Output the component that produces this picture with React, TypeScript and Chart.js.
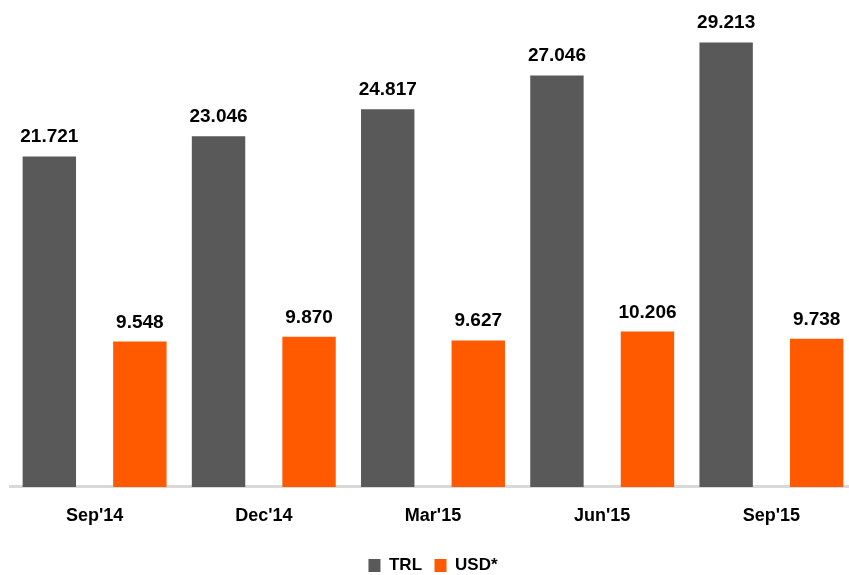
import React, { useEffect, useRef } from "react";
import { Chart, registerables } from "chart.js";

Chart.register(...registerables);

const categories = ["Sep'14", "Dec'14", "Mar'15", "Jun'15", "Sep'15"];
const trlValues = [21.721, 23.046, 24.817, 27.046, 29.213];
const usdValues = [9.548, 9.87, 9.627, 10.206, 9.738];
const seriesNames = ["TRL", "USD*"];

const GRAY = "#595959";
const ORANGE = "#FF5A00";
const FONT = "'Liberation Sans', Arial, sans-serif";

const valueLabels = {
  id: "valueLabels",
  afterDatasetsDraw(chart: any) {
    const ctx = chart.ctx;
    ctx.save();
    ctx.font = `bold 19px ${FONT}`;
    ctx.fillStyle = "#000";
    ctx.textAlign = "center";
    ctx.textBaseline = "alphabetic";
    chart.data.datasets.forEach((ds: any, di: number) => {
      const meta = chart.getDatasetMeta(di);
      meta.data.forEach((el: any, i: number) => {
        const v = ds.data[i] as number;
        ctx.fillText(v.toFixed(3), el.x, el.y - 14);
      });
    });
    ctx.restore();
  },
};

export default function App() {
  const ref = useRef<HTMLCanvasElement | null>(null);
  useEffect(() => {
    if (!ref.current) return;
    const chart = new Chart(ref.current, {
      type: "bar",
      data: {
        labels: categories,
        datasets: [
          {
            label: seriesNames[0],
            data: trlValues,
            backgroundColor: GRAY,
            categoryPercentage: 1.07,
            barPercentage: 0.59,
          },
          {
            label: seriesNames[1],
            data: usdValues,
            backgroundColor: ORANGE,
            categoryPercentage: 1.07,
            barPercentage: 0.59,
          },
        ],
      },
      options: {
        animation: false,
        responsive: true,
        maintainAspectRatio: false,
        layout: { padding: { left: 10, right: 4, top: 0, bottom: -9 } },
        scales: {
          x: {
            grid: { display: false, drawTicks: false },
            border: { display: true, color: "#d9d9d9", width: 3 },
            ticks: {
              color: "#000",
              font: { family: FONT, size: 18, weight: "bold" },
              padding: 18,
            },
          },
          y: {
            display: false,
            min: 0,
            max: 32,
          },
        },
        plugins: {
          legend: {
            position: "bottom",
            labels: {
              color: "#000",
              font: { family: FONT, size: 17, weight: "bold" },
              boxWidth: 12,
              boxHeight: 13,
              padding: 12.5,
            },
          },
          tooltip: { enabled: false },
        },
      },
      plugins: [valueLabels],
    });
    return () => chart.destroy();
  }, []);
  return (
    <div
      style={{
        position: "fixed",
        left: 0,
        top: 0,
        width: 849,
        height: 575,
        overflow: "hidden",
        background: "#fff",
      }}
    >
      <div style={{ position: "relative", width: 860, height: 575 }}>
        <canvas ref={ref} />
      </div>
    </div>
  );
}
